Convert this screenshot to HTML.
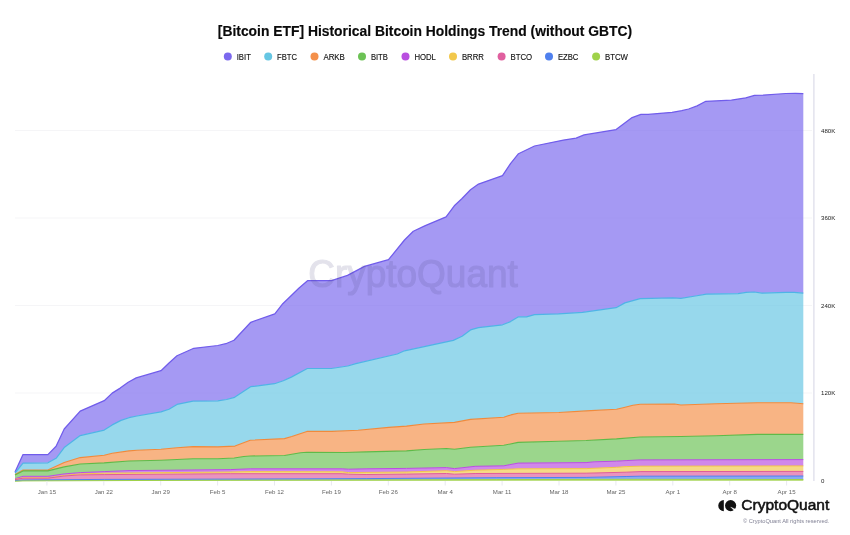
<!DOCTYPE html>
<html lang="en"><head><meta charset="utf-8"><title>[Bitcoin ETF] Historical Bitcoin Holdings Trend (without GBTC)</title>
<style>
html,body{margin:0;padding:0;background:#fff;}
body{width:850px;height:535px;overflow:hidden;position:relative;font-family:"Liberation Sans",sans-serif;}
</style></head><body>
<svg width="850" height="535" viewBox="0 0 850 535" style="position:absolute;left:0;top:0;font-family:'Liberation Sans',sans-serif">
<rect width="850" height="535" fill="#fff"/>
<rect x="15" y="130.0" width="797" height="1" fill="#f5f5f7"/>
<rect x="15" y="217.5" width="797" height="1" fill="#f5f5f7"/>
<rect x="15" y="305.0" width="797" height="1" fill="#f5f5f7"/>
<rect x="15" y="392.5" width="797" height="1" fill="#f5f5f7"/>
<polygon points="15.0,471.9 23.0,454.6 47.9,454.6 56.1,446.3 64.2,429.0 80.2,411.1 96.2,404.1 104.2,400.7 112.2,393.1 120.2,388.1 128.2,382.2 136.2,377.9 161.0,370.7 169.0,363.0 177.0,355.8 193.8,348.3 217.8,345.5 225.8,343.7 234.0,340.2 250.8,322.3 274.8,313.8 282.8,303.7 298.8,288.2 307.5,280.7 331.5,280.7 347.5,275.4 364.5,266.4 388.5,259.7 404.5,240.0 413.3,231.2 425.3,225.6 446.1,216.8 454.3,205.8 461.8,198.8 470.5,189.7 478.5,184.1 502.5,175.6 510.5,163.6 518.5,153.7 534.5,146.0 563.4,140.1 576.1,138.2 584.1,134.9 616.1,129.6 632.1,117.6 640.9,114.4 648.1,114.4 672.1,112.3 681.8,110.7 688.6,109.0 697.1,105.9 705.8,101.3 731.4,100.2 745.8,97.8 754.5,95.4 763.4,95.1 785.8,93.5 795.4,93.3 803.3,93.6 803.3,293.1 794.1,292.3 786.1,292.3 762.1,293.1 754.1,292.0 746.1,292.3 738.1,293.6 706.4,294.1 695.4,296.0 680.9,298.4 672.9,297.9 640.1,298.7 624.9,302.9 616.1,307.7 582.5,312.3 558.5,313.9 534.5,314.7 526.5,316.8 518.5,316.8 510.5,321.6 502.5,324.8 478.5,327.7 470.5,329.9 462.1,336.2 453.3,340.4 404.5,350.8 397.3,354.0 355.8,363.6 347.8,366.0 331.3,368.5 307.3,368.5 291.3,377.1 283.3,380.8 274.5,383.7 250.6,386.7 234.6,397.3 226.6,399.5 217.8,400.8 193.0,401.2 177.0,404.4 169.0,409.2 161.0,411.9 137.0,416.0 129.0,417.7 121.0,420.4 112.2,424.9 104.2,430.1 80.2,435.6 64.2,447.6 56.1,458.3 47.9,462.8 23.0,463.1 15.0,473.2" fill="#7b68ee" fill-opacity="0.68"/>
<polygon points="15.0,473.2 23.0,463.1 47.9,462.8 56.1,458.3 64.2,447.6 80.2,435.6 104.2,430.1 112.2,424.9 121.0,420.4 129.0,417.7 137.0,416.0 161.0,411.9 169.0,409.2 177.0,404.4 193.0,401.2 217.8,400.8 226.6,399.5 234.6,397.3 250.6,386.7 274.5,383.7 283.3,380.8 291.3,377.1 307.3,368.5 331.3,368.5 347.8,366.0 355.8,363.6 397.3,354.0 404.5,350.8 453.3,340.4 462.1,336.2 470.5,329.9 478.5,327.7 502.5,324.8 510.5,321.6 518.5,316.8 526.5,316.8 534.5,314.7 558.5,313.9 582.5,312.3 616.1,307.7 624.9,302.9 640.1,298.7 672.9,297.9 680.9,298.4 695.4,296.0 706.4,294.1 738.1,293.6 746.1,292.3 754.1,292.0 762.1,293.1 786.1,292.3 794.1,292.3 803.3,293.1 803.3,403.7 790.9,402.7 757.4,402.7 716.1,403.7 680.9,405.0 674.5,404.0 640.1,404.3 632.9,405.3 624.1,407.5 616.5,409.3 586.1,410.9 558.9,412.5 518.1,413.3 510.9,414.9 503.8,417.3 470.5,419.4 454.5,422.4 424.1,424.0 406.5,426.1 388.9,427.4 358.1,430.3 331.8,431.4 306.9,431.4 291.8,436.5 284.5,438.6 250.2,440.2 235.0,446.1 217.8,446.9 193.0,446.6 177.0,447.7 161.0,449.3 137.0,450.2 129.0,450.9 112.2,453.3 104.2,455.2 80.2,457.6 64.2,462.6 47.9,470.1 23.0,470.1 15.0,474.4" fill="#66c6e3" fill-opacity="0.68"/>
<polygon points="15.0,474.4 23.0,470.1 47.9,470.1 64.2,462.6 80.2,457.6 104.2,455.2 112.2,453.3 129.0,450.9 137.0,450.2 161.0,449.3 177.0,447.7 193.0,446.6 217.8,446.9 235.0,446.1 250.2,440.2 284.5,438.6 291.8,436.5 306.9,431.4 331.8,431.4 358.1,430.3 388.9,427.4 406.5,426.1 424.1,424.0 454.5,422.4 470.5,419.4 503.8,417.3 510.9,414.9 518.1,413.3 558.9,412.5 586.1,410.9 616.5,409.3 624.1,407.5 632.9,405.3 640.1,404.3 674.5,404.0 680.9,405.0 716.1,403.7 757.4,402.7 790.9,402.7 803.3,403.7 803.3,434.4 757.4,434.4 716.1,435.7 680.9,436.5 640.1,437.0 616.5,438.9 586.1,440.5 558.9,441.3 518.1,442.4 503.8,445.3 470.5,447.2 454.5,449.3 446.5,448.5 424.1,449.5 406.5,450.9 366.1,451.9 345.1,452.5 306.9,452.3 300.5,452.7 284.5,455.5 250.2,456.0 243.8,456.5 234.2,458.0 217.8,458.7 193.0,458.7 161.0,460.2 129.0,461.0 104.2,462.9 80.2,464.0 64.2,466.9 47.9,470.9 23.0,470.9 15.0,474.9" fill="#f4904a" fill-opacity="0.68"/>
<polygon points="15.0,474.9 23.0,470.9 47.9,470.9 64.2,466.9 80.2,464.0 104.2,462.9 129.0,461.0 161.0,460.2 193.0,458.7 217.8,458.7 234.2,458.0 243.8,456.5 250.2,456.0 284.5,455.5 300.5,452.7 306.9,452.3 345.1,452.5 366.1,451.9 406.5,450.9 424.1,449.5 446.5,448.5 454.5,449.3 470.5,447.2 503.8,445.3 518.1,442.4 558.9,441.3 586.1,440.5 616.5,438.9 640.1,437.0 680.9,436.5 716.1,435.7 757.4,434.4 803.3,434.4 803.3,459.6 640.1,459.9 626.1,460.6 616.5,461.2 594.1,461.8 586.1,462.6 558.9,462.8 518.1,463.1 503.8,465.8 475.1,466.3 454.5,468.6 446.5,467.6 406.5,468.4 366.1,468.8 348.5,469.2 342.1,468.8 250.2,468.8 230.2,469.6 129.0,470.6 104.2,471.6 80.2,472.6 64.2,473.9 47.9,476.3 23.0,476.3 15.0,478.7" fill="#6cc255" fill-opacity="0.68"/>
<polygon points="15.0,478.7 23.0,476.3 47.9,476.3 64.2,473.9 80.2,472.6 104.2,471.6 129.0,470.6 230.2,469.6 250.2,468.8 342.1,468.8 348.5,469.2 366.1,468.8 406.5,468.4 446.5,467.6 454.5,468.6 475.1,466.3 503.8,465.8 518.1,463.1 558.9,462.8 586.1,462.6 594.1,461.8 616.5,461.2 626.1,460.6 640.1,459.9 803.3,459.6 803.3,465.9 640.1,466.2 626.1,466.6 616.5,467.3 586.1,468.6 518.1,468.8 503.8,469.4 475.1,470.2 454.5,471.6 446.5,470.7 406.5,472.0 366.1,472.4 348.5,472.6 342.1,471.8 250.2,471.6 230.2,472.0 104.2,473.2 80.2,473.9 64.2,475.4 47.9,477.8 23.0,477.8 15.0,479.3" fill="#b94fe0" fill-opacity="0.68"/>
<polygon points="15.0,479.3 23.0,477.8 47.9,477.8 64.2,475.4 80.2,473.9 104.2,473.2 230.2,472.0 250.2,471.6 342.1,471.8 348.5,472.6 366.1,472.4 406.5,472.0 446.5,470.7 454.5,471.6 475.1,470.2 503.8,469.4 518.1,468.8 586.1,468.6 616.5,467.3 626.1,466.6 640.1,466.2 803.3,465.9 803.3,471.4 640.1,471.6 626.1,472.2 586.1,473.2 475.1,473.5 454.5,474.2 446.5,473.5 406.5,474.1 366.1,474.5 348.5,474.2 342.1,473.7 230.2,473.7 104.2,474.6 80.2,474.9 64.2,476.0 47.9,478.2 23.0,478.2 15.0,479.6" fill="#f2c84c" fill-opacity="0.68"/>
<polygon points="15.0,479.6 23.0,478.2 47.9,478.2 64.2,476.0 80.2,474.9 104.2,474.6 230.2,473.7 342.1,473.7 348.5,474.2 366.1,474.5 406.5,474.1 446.5,473.5 454.5,474.2 475.1,473.5 586.1,473.2 626.1,472.2 640.1,471.6 803.3,471.4 803.3,476.0 640.1,476.2 626.1,476.5 586.1,477.4 496.1,477.7 366.1,478.6 230.2,479.1 104.2,479.4 23.0,480.0 15.0,480.6" fill="#e0609f" fill-opacity="0.68"/>
<polygon points="15.0,480.6 23.0,480.0 104.2,479.4 230.2,479.1 366.1,478.6 496.1,477.7 586.1,477.4 626.1,476.5 640.1,476.2 803.3,476.0 803.3,479.5 626.1,479.3 496.1,479.6 366.1,479.9 230.2,480.2 23.0,480.9 15.0,481.2" fill="#4f80ee" fill-opacity="0.68"/>
<polygon points="15.0,481.2 23.0,480.9 230.2,480.2 366.1,479.9 496.1,479.6 626.1,479.3 803.3,479.5 803.3,481.0 15.0,481.0" fill="#9fd24a" fill-opacity="0.68"/>
<polyline points="15.0,471.9 23.0,454.6 47.9,454.6 56.1,446.3 64.2,429.0 80.2,411.1 96.2,404.1 104.2,400.7 112.2,393.1 120.2,388.1 128.2,382.2 136.2,377.9 161.0,370.7 169.0,363.0 177.0,355.8 193.8,348.3 217.8,345.5 225.8,343.7 234.0,340.2 250.8,322.3 274.8,313.8 282.8,303.7 298.8,288.2 307.5,280.7 331.5,280.7 347.5,275.4 364.5,266.4 388.5,259.7 404.5,240.0 413.3,231.2 425.3,225.6 446.1,216.8 454.3,205.8 461.8,198.8 470.5,189.7 478.5,184.1 502.5,175.6 510.5,163.6 518.5,153.7 534.5,146.0 563.4,140.1 576.1,138.2 584.1,134.9 616.1,129.6 632.1,117.6 640.9,114.4 648.1,114.4 672.1,112.3 681.8,110.7 688.6,109.0 697.1,105.9 705.8,101.3 731.4,100.2 745.8,97.8 754.5,95.4 763.4,95.1 785.8,93.5 795.4,93.3 803.3,93.6" fill="none" stroke="#705ceb" stroke-width="1.25" stroke-linejoin="round"/>
<polyline points="15.0,473.2 23.0,463.1 47.9,462.8 56.1,458.3 64.2,447.6 80.2,435.6 104.2,430.1 112.2,424.9 121.0,420.4 129.0,417.7 137.0,416.0 161.0,411.9 169.0,409.2 177.0,404.4 193.0,401.2 217.8,400.8 226.6,399.5 234.6,397.3 250.6,386.7 274.5,383.7 283.3,380.8 291.3,377.1 307.3,368.5 331.3,368.5 347.8,366.0 355.8,363.6 397.3,354.0 404.5,350.8 453.3,340.4 462.1,336.2 470.5,329.9 478.5,327.7 502.5,324.8 510.5,321.6 518.5,316.8 526.5,316.8 534.5,314.7 558.5,313.9 582.5,312.3 616.1,307.7 624.9,302.9 640.1,298.7 672.9,297.9 680.9,298.4 695.4,296.0 706.4,294.1 738.1,293.6 746.1,292.3 754.1,292.0 762.1,293.1 786.1,292.3 794.1,292.3 803.3,293.1" fill="none" stroke="#4fb4e6" stroke-width="1.2" stroke-linejoin="round"/>
<polyline points="15.0,474.4 23.0,470.1 47.9,470.1 64.2,462.6 80.2,457.6 104.2,455.2 112.2,453.3 129.0,450.9 137.0,450.2 161.0,449.3 177.0,447.7 193.0,446.6 217.8,446.9 235.0,446.1 250.2,440.2 284.5,438.6 291.8,436.5 306.9,431.4 331.8,431.4 358.1,430.3 388.9,427.4 406.5,426.1 424.1,424.0 454.5,422.4 470.5,419.4 503.8,417.3 510.9,414.9 518.1,413.3 558.9,412.5 586.1,410.9 616.5,409.3 624.1,407.5 632.9,405.3 640.1,404.3 674.5,404.0 680.9,405.0 716.1,403.7 757.4,402.7 790.9,402.7 803.3,403.7" fill="none" stroke="#f08a3c" stroke-width="1.1" stroke-linejoin="round"/>
<polyline points="15.0,474.9 23.0,470.9 47.9,470.9 64.2,466.9 80.2,464.0 104.2,462.9 129.0,461.0 161.0,460.2 193.0,458.7 217.8,458.7 234.2,458.0 243.8,456.5 250.2,456.0 284.5,455.5 300.5,452.7 306.9,452.3 345.1,452.5 366.1,451.9 406.5,450.9 424.1,449.5 446.5,448.5 454.5,449.3 470.5,447.2 503.8,445.3 518.1,442.4 558.9,441.3 586.1,440.5 616.5,438.9 640.1,437.0 680.9,436.5 716.1,435.7 757.4,434.4 803.3,434.4" fill="none" stroke="#5fba48" stroke-width="1.1" stroke-linejoin="round"/>
<polyline points="15.0,478.7 23.0,476.3 47.9,476.3 64.2,473.9 80.2,472.6 104.2,471.6 129.0,470.6 230.2,469.6 250.2,468.8 342.1,468.8 348.5,469.2 366.1,468.8 406.5,468.4 446.5,467.6 454.5,468.6 475.1,466.3 503.8,465.8 518.1,463.1 558.9,462.8 586.1,462.6 594.1,461.8 616.5,461.2 626.1,460.6 640.1,459.9 803.3,459.6" fill="none" stroke="#b94fe0" stroke-width="1" stroke-linejoin="round"/>
<polyline points="15.0,479.3 23.0,477.8 47.9,477.8 64.2,475.4 80.2,473.9 104.2,473.2 230.2,472.0 250.2,471.6 342.1,471.8 348.5,472.6 366.1,472.4 406.5,472.0 446.5,470.7 454.5,471.6 475.1,470.2 503.8,469.4 518.1,468.8 586.1,468.6 616.5,467.3 626.1,466.6 640.1,466.2 803.3,465.9" fill="none" stroke="#f2c44a" stroke-width="1" stroke-linejoin="round"/>
<polyline points="15.0,479.6 23.0,478.2 47.9,478.2 64.2,476.0 80.2,474.9 104.2,474.6 230.2,473.7 342.1,473.7 348.5,474.2 366.1,474.5 406.5,474.1 446.5,473.5 454.5,474.2 475.1,473.5 586.1,473.2 626.1,472.2 640.1,471.6 803.3,471.4" fill="none" stroke="#e05c98" stroke-width="1" stroke-linejoin="round"/>
<polyline points="15.0,480.6 23.0,480.0 104.2,479.4 230.2,479.1 366.1,478.6 496.1,477.7 586.1,477.4 626.1,476.5 640.1,476.2 803.3,476.0" fill="none" stroke="#4f80ee" stroke-width="1" stroke-linejoin="round"/>
<polyline points="15.0,481.2 23.0,480.9 230.2,480.2 366.1,479.9 496.1,479.6 626.1,479.3 803.3,479.5" fill="none" stroke="#9fd24a" stroke-width="1" stroke-linejoin="round"/>
<rect x="813" y="74" width="1.7" height="407" fill="#e6e6ef"/>
<rect x="46.4" y="481" width="1" height="4.5" fill="#e9e9f0"/>
<text x="46.9" y="494.2" font-size="6.1" fill="#666" text-anchor="middle">Jan 15</text>
<rect x="103.3" y="481" width="1" height="4.5" fill="#e9e9f0"/>
<text x="103.8" y="494.2" font-size="6.1" fill="#666" text-anchor="middle">Jan 22</text>
<rect x="160.2" y="481" width="1" height="4.5" fill="#e9e9f0"/>
<text x="160.7" y="494.2" font-size="6.1" fill="#666" text-anchor="middle">Jan 29</text>
<rect x="217.1" y="481" width="1" height="4.5" fill="#e9e9f0"/>
<text x="217.6" y="494.2" font-size="6.1" fill="#666" text-anchor="middle">Feb 5</text>
<rect x="274.0" y="481" width="1" height="4.5" fill="#e9e9f0"/>
<text x="274.5" y="494.2" font-size="6.1" fill="#666" text-anchor="middle">Feb 12</text>
<rect x="330.9" y="481" width="1" height="4.5" fill="#e9e9f0"/>
<text x="331.4" y="494.2" font-size="6.1" fill="#666" text-anchor="middle">Feb 19</text>
<rect x="387.8" y="481" width="1" height="4.5" fill="#e9e9f0"/>
<text x="388.3" y="494.2" font-size="6.1" fill="#666" text-anchor="middle">Feb 26</text>
<rect x="444.7" y="481" width="1" height="4.5" fill="#e9e9f0"/>
<text x="445.2" y="494.2" font-size="6.1" fill="#666" text-anchor="middle">Mar 4</text>
<rect x="501.6" y="481" width="1" height="4.5" fill="#e9e9f0"/>
<text x="502.1" y="494.2" font-size="6.1" fill="#666" text-anchor="middle">Mar 11</text>
<rect x="558.5" y="481" width="1" height="4.5" fill="#e9e9f0"/>
<text x="559.0" y="494.2" font-size="6.1" fill="#666" text-anchor="middle">Mar 18</text>
<rect x="615.4" y="481" width="1" height="4.5" fill="#e9e9f0"/>
<text x="615.9" y="494.2" font-size="6.1" fill="#666" text-anchor="middle">Mar 25</text>
<rect x="672.3" y="481" width="1" height="4.5" fill="#e9e9f0"/>
<text x="672.8" y="494.2" font-size="6.1" fill="#666" text-anchor="middle">Apr 1</text>
<rect x="729.2" y="481" width="1" height="4.5" fill="#e9e9f0"/>
<text x="729.7" y="494.2" font-size="6.1" fill="#666" text-anchor="middle">Apr 8</text>
<rect x="786.1" y="481" width="1" height="4.5" fill="#e9e9f0"/>
<text x="786.6" y="494.2" font-size="6.1" fill="#666" text-anchor="middle">Apr 15</text>
<text x="821" y="482.5" font-size="6.1" fill="#222">0</text>
<text x="821" y="395.0" font-size="6.1" fill="#222">120K</text>
<text x="821" y="307.5" font-size="6.1" fill="#222">240K</text>
<text x="821" y="220.0" font-size="6.1" fill="#222">360K</text>
<text x="821" y="132.5" font-size="6.1" fill="#222">480K</text>
<text x="308.2" y="286.9" font-size="38" fill="#4a4580" stroke="#4a4580" stroke-width="1.2" stroke-linejoin="round" opacity="0.15" textLength="209.6" lengthAdjust="spacingAndGlyphs">CryptoQuant</text>
<text x="425" y="36.3" font-size="13.9" font-weight="bold" fill="#0a0a0a" stroke="#0a0a0a" stroke-width="0.15" text-anchor="middle" textLength="414.4" lengthAdjust="spacingAndGlyphs">[Bitcoin ETF] Historical Bitcoin Holdings Trend (without GBTC)</text>
<circle cx="227.8" cy="56.4" r="4" fill="#7b68ee"/>
<text x="236.7" y="60.3" font-size="8.2" fill="#111" stroke="#111" stroke-width="0.12" textLength="14.2" lengthAdjust="spacingAndGlyphs">IBIT</text>
<circle cx="268.2" cy="56.4" r="4" fill="#66c6e3"/>
<text x="277.1" y="60.3" font-size="8.2" fill="#111" stroke="#111" stroke-width="0.12" textLength="19.9" lengthAdjust="spacingAndGlyphs">FBTC</text>
<circle cx="314.5" cy="56.4" r="4" fill="#f4904a"/>
<text x="323.4" y="60.3" font-size="8.2" fill="#111" stroke="#111" stroke-width="0.12" textLength="21.5" lengthAdjust="spacingAndGlyphs">ARKB</text>
<circle cx="362.0" cy="56.4" r="4" fill="#6cc255"/>
<text x="370.9" y="60.3" font-size="8.2" fill="#111" stroke="#111" stroke-width="0.12" textLength="17.0" lengthAdjust="spacingAndGlyphs">BITB</text>
<circle cx="405.5" cy="56.4" r="4" fill="#b94fe0"/>
<text x="414.4" y="60.3" font-size="8.2" fill="#111" stroke="#111" stroke-width="0.12" textLength="21.5" lengthAdjust="spacingAndGlyphs">HODL</text>
<circle cx="453.0" cy="56.4" r="4" fill="#f2c84c"/>
<text x="461.9" y="60.3" font-size="8.2" fill="#111" stroke="#111" stroke-width="0.12" textLength="22.0" lengthAdjust="spacingAndGlyphs">BRRR</text>
<circle cx="501.6" cy="56.4" r="4" fill="#e0609f"/>
<text x="510.5" y="60.3" font-size="8.2" fill="#111" stroke="#111" stroke-width="0.12" textLength="21.7" lengthAdjust="spacingAndGlyphs">BTCO</text>
<circle cx="549.0" cy="56.4" r="4" fill="#4f80ee"/>
<text x="557.9" y="60.3" font-size="8.2" fill="#111" stroke="#111" stroke-width="0.12" textLength="20.5" lengthAdjust="spacingAndGlyphs">EZBC</text>
<circle cx="596.1" cy="56.4" r="4" fill="#9fd24a"/>
<text x="605.0" y="60.3" font-size="8.2" fill="#111" stroke="#111" stroke-width="0.12" textLength="23.0" lengthAdjust="spacingAndGlyphs">BTCW</text>
<g fill="#111">
<path d="M723.8,500.1 A5.5,5.5 0 0 0 723.8,511.15 Z"/>
<circle cx="730.6" cy="505.6" r="5.55"/>
<path d="M730.7,507.1 L737.1,509.95 L735.65,512.05 Z" fill="#fff" stroke="#fff" stroke-width="0.35" stroke-linejoin="round"/>
</g>
<text x="741.3" y="510.4" font-size="14" fill="#111" stroke="#111" stroke-width="0.5" textLength="88" lengthAdjust="spacingAndGlyphs">CryptoQuant</text>
<text x="742.9" y="523" font-size="6" fill="#808094" textLength="86.4" lengthAdjust="spacingAndGlyphs">© CryptoQuant All rights reserved.</text>
</svg>
</body></html>
